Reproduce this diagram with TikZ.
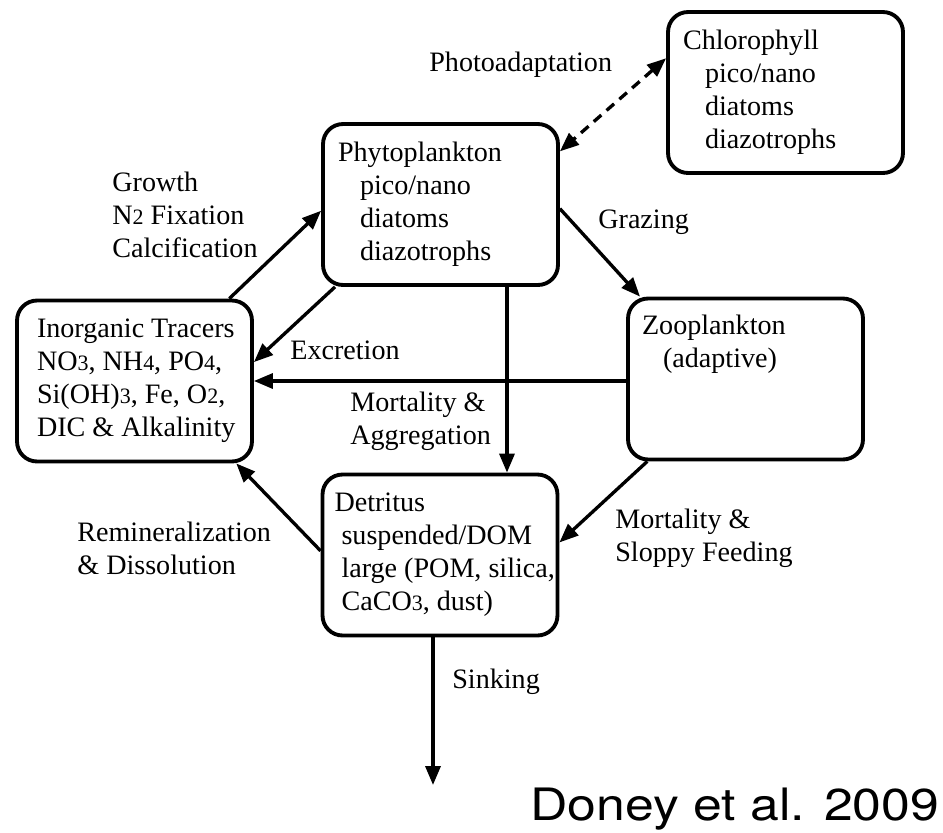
\documentclass[tikz,border=0pt]{standalone}
\usepackage{fontspec}
\setmainfont{Liberation Serif}
\newfontfamily\creditfont{TeX Gyre Heros}
\usetikzlibrary{arrows.meta}
\newcommand{\chemnum}[1]{{\fontsize{12.5}{12}\selectfont #1}}

\begin{document}
\begin{tikzpicture}[x=0.02cm, y=-0.02cm,
    every node/.style={font=\fontsize{16}{18.8}\selectfont, text=black},
    pool/.style={draw=black, line width=2.2pt, rounded corners=0.4cm,
      minimum width=4.7cm, minimum height=3.22cm, text width=4.7cm,
      inner xsep=0pt, align=flush left},
    flux/.style={line width=1.9pt, -{Triangle[length=0.38cm,width=0.3cm]}},
    dashflux/.style={line width=1.9pt, dash pattern=on 0.2cm off 0.14cm,
      {Triangle[length=0.38cm,width=0.3cm]}-{Triangle[length=0.38cm,width=0.3cm]}},
    lbl/.style={anchor=west, inner sep=0pt, align=left}]
      \useasboundingbox (0,0) rectangle (943,832);

      % Pools
      \node[pool] (chl) at (785.5,92.5) {\hspace*{0.3cm}Chlorophyll\\
        \hspace*{0.74cm}pico/nano\\ \hspace*{0.74cm}diatoms\\ \hspace*{0.74cm}diazotrophs};
      \node[pool] (phyto) at (440.5,204.5) {\hspace*{0.3cm}Phytoplankton\\
        \hspace*{0.74cm}pico/nano\\ \hspace*{0.74cm}diatoms\\ \hspace*{0.74cm}diazotrophs};
      \node[pool] (inorg) at (134.5,381) {\hspace*{0.4cm}\mbox{Inorganic Tracers}\\
        \hspace*{0.4cm}\mbox{NO\chemnum{3}, NH\chemnum{4}, PO\chemnum{4},}\\
        \hspace*{0.4cm}\mbox{Si(OH)\chemnum{3}, Fe, O\chemnum{2},}\\
        \hspace*{0.4cm}\mbox{DIC \& Alkalinity}};
      \node[pool] (zoo) at (745.5,379) {\hspace*{0.28cm}Zooplankton\\
        \hspace*{0.7cm}(adaptive)\\ \strut\\ \strut};
      \node[pool] (detr) at (440,555) {\hspace*{0.24cm}Detritus\\
        \hspace*{0.38cm}suspended/DOM\\ \hspace*{0.38cm}\mbox{large (POM, silica,}\\
        \hspace*{0.38cm}\mbox{CaCO\chemnum{3}, dust)}};

      % Fluxes
      \draw[dashflux] (chl.164) -- (phyto.24);
      \draw[flux] (inorg.41) -- (phyto.183);
      \draw[flux] (phyto.218) -- (inorg.9);
      \draw[flux] (phyto.-2) -- (zoo.142);
      \draw[flux] (zoo.west |- inorg.east) -- (inorg.east);
      \draw[flux] ([xshift=1.33cm]phyto.south) -- ([xshift=1.33cm]phyto.south |- detr.north);
      \draw[flux] (zoo.220) -- (detr.6);
      \draw[flux] (detr.178) -- (inorg.-39);
      \coordinate (sinkend) at (433,785);
      \draw[flux] (sinkend |- detr.south) -- (sinkend);

      % Labels
      \node[lbl] (photolbl) at (429,65) {Photoadaptation};
      \node[lbl] (growthlbl) at (112,215) {Growth\\N\chemnum{2} Fixation\\Calcification};
      \node[lbl] (grazlbl) at (598,222) {Grazing};
      \node[lbl] (excrlbl) at (290,350) {Excretion};
      \node[lbl] (mortlbl) at (350,421.5) {Mortality \&\\Aggregation};
      \node[lbl] (reminlbl) at (77,548.5) {Remineralization\\\& Dissolution};
      \node[lbl] (sloppylbl) at (615,538.5) {Mortality \&\\Sloppy Feeding};
      \node[lbl] (sinklbl) at (452,682) {Sinking};
      \node[anchor=base west, inner sep=0pt, text=black,
        font=\creditfont\fontsize{25.4}{26}\selectfont] (credit) at (530,820)
        {\scalebox{1.16}[1]{Doney et al. 2009}};
    \end{tikzpicture}
\end{document}
